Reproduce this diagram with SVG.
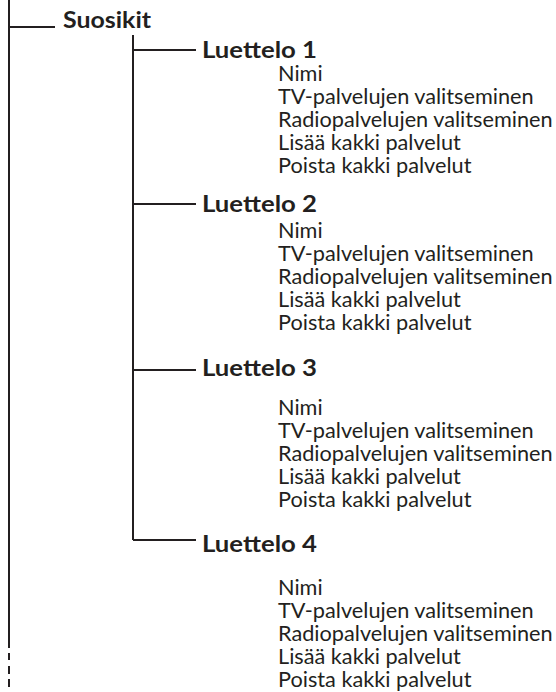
<svg xmlns="http://www.w3.org/2000/svg" width="556" height="692" viewBox="0 0 556 692">
<style>
.ln{stroke:#231f20;stroke-width:2;fill:none}
.h{font-family:Lato,"Open Sans","Liberation Sans",sans-serif;font-weight:bold;font-size:22px;fill:#231f20}
.t{font-family:Lato,"Open Sans","Liberation Sans",sans-serif;font-size:21.7px;fill:#231f20}
</style>
<rect width="556" height="692" fill="#fff"/>
<g id="connectors">
<line class="ln" x1="9" y1="0" x2="9" y2="648"/>
<line class="ln" x1="9" y1="653" x2="9" y2="660"/>
<line class="ln" x1="9" y1="666" x2="9" y2="674"/>
<line class="ln" x1="9" y1="679" x2="9" y2="687"/>
<line class="ln" x1="9" y1="27" x2="55" y2="27"/>
<line class="ln" x1="133" y1="35" x2="133" y2="540"/>
<line class="ln" x1="133" y1="50" x2="196" y2="50"/>
<line class="ln" x1="133" y1="204" x2="196" y2="204"/>
<line class="ln" x1="133" y1="370" x2="196" y2="370"/>
<line class="ln" x1="133" y1="540" x2="196" y2="540"/>
</g>
<g id="suosikit"><text class="h" x="63" y="28" textLength="88" lengthAdjust="spacingAndGlyphs">Suosikit</text></g>
<g id="luettelo1">
<text class="h" x="202" y="58" textLength="115" lengthAdjust="spacingAndGlyphs">Luettelo 1</text>
<text class="t" x="278" y="81">Nimi</text>
<text class="t" x="278" y="104">TV-palvelujen valitseminen</text>
<text class="t" x="278" y="127">Radiopalvelujen valitseminen</text>
<text class="t" x="278" y="150">Lisää kakki palvelut</text>
<text class="t" x="278" y="173">Poista kakki palvelut</text>
</g>
<g id="luettelo2">
<text class="h" x="202" y="212" textLength="115" lengthAdjust="spacingAndGlyphs">Luettelo 2</text>
<text class="t" x="278" y="238">Nimi</text>
<text class="t" x="278" y="261">TV-palvelujen valitseminen</text>
<text class="t" x="278" y="284">Radiopalvelujen valitseminen</text>
<text class="t" x="278" y="307">Lisää kakki palvelut</text>
<text class="t" x="278" y="330">Poista kakki palvelut</text>
</g>
<g id="luettelo3">
<text class="h" x="202" y="376" textLength="115" lengthAdjust="spacingAndGlyphs">Luettelo 3</text>
<text class="t" x="278" y="415">Nimi</text>
<text class="t" x="278" y="438">TV-palvelujen valitseminen</text>
<text class="t" x="278" y="461">Radiopalvelujen valitseminen</text>
<text class="t" x="278" y="484">Lisää kakki palvelut</text>
<text class="t" x="278" y="507">Poista kakki palvelut</text>
</g>
<g id="luettelo4">
<text class="h" x="202" y="552" textLength="115" lengthAdjust="spacingAndGlyphs">Luettelo 4</text>
<text class="t" x="278" y="595">Nimi</text>
<text class="t" x="278" y="618">TV-palvelujen valitseminen</text>
<text class="t" x="278" y="641">Radiopalvelujen valitseminen</text>
<text class="t" x="278" y="664">Lisää kakki palvelut</text>
<text class="t" x="278" y="687">Poista kakki palvelut</text>
</g>
</svg>
